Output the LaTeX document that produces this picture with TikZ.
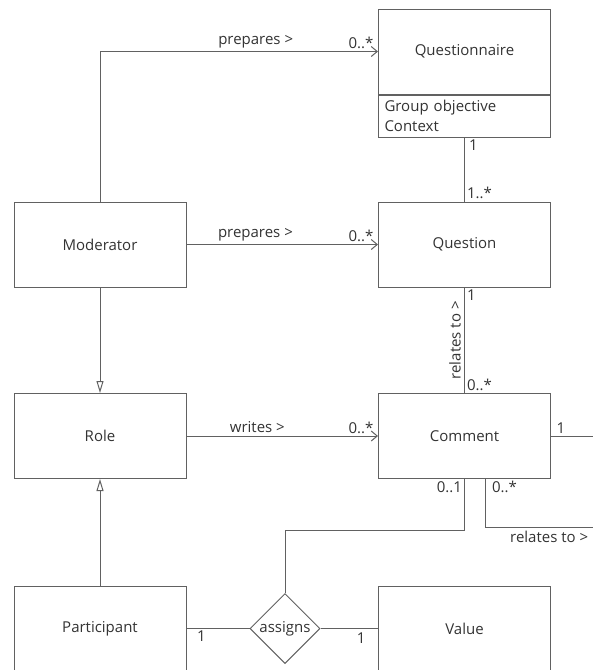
\documentclass[tikz,border=0pt]{standalone}
\usepackage{fontspec}
\setmainfont{Open Sans}
\usepackage{tikz}
\usetikzlibrary{arrows.meta, positioning, shapes.geometric}

\begin{document}
\begin{tikzpicture}[
    x=1pt, y=-1pt,
    font=\fontsize{15}{20}\selectfont,
    every node/.append style={text=black!80},
    class/.style={rectangle, draw=black!62, line width=1pt, minimum width=172pt, minimum height=85pt, inner sep=0pt},
    attrs/.style={rectangle, draw=black!62, line width=1pt, minimum width=172pt, minimum height=42pt, text width=160pt, align=left, inner sep=0pt},
    rel/.style={diamond, draw=black!62, line width=1pt, minimum width=70pt, minimum height=70pt, inner sep=0pt},
    link/.style={draw=black!62, line width=1pt},
    assoc/.style={link, -{Straight Barb[length=6pt, width=10pt]}},
    gen/.style={link, -{Triangle[open, length=12pt, width=7pt]}},
    mult/.style={inner sep=2pt}
]
\clip (0,0) rectangle (593,670);

\node [class] (questionnaire) at (464.5,51.5) {Questionnaire};
\node [attrs, below=0pt of questionnaire] (qattr) {Group objective\\Context};
\node [class] (moderator) at (100,244.5) {Moderator};
\node [class] (question) at (464.5,244.5) {Question};
\node [class] (role) at (100,436) {Role};
\node [class] (comment) at (464.5,436) {Comment};
\node [class] (participant) at (100,628.5) {Participant};
\node [class] (value) at (464.5,628.5) {Value};
\node [rel] (assigns) at (285,628.5) {assigns};
\coordinate (cmtout) at (593,436);
\coordinate (relout) at (593,527);

\draw[assoc] (moderator.north) |- (questionnaire.west)
    node [pos=0.78, above] {prepares >}
    node [pos=1, mult, above left, xshift=-2pt] {0..*};
\draw[assoc] (moderator) -- (question)
    node [pos=0.36, above] {prepares >}
    node [pos=1, mult, above left, xshift=-2pt] {0..*};
\draw[link] (qattr) -- (question)
    node [pos=0, mult, below right, xshift=2pt] {1}
    node [pos=1, mult, above right] {1..*};
\draw[link] (question) -- (comment)
    node [pos=0, mult, below right] {1}
    node [pos=1, mult, above right] {0..*}
    node [midway, rotate=90, above] {relates to >};
\draw[gen] (moderator) -- (role);
\draw[assoc] (role) -- (comment)
    node [pos=0.37, above] {writes >}
    node [pos=1, mult, above left, xshift=-2pt] {0..*};
\draw[link] (comment) -- (cmtout)
    node [pos=0, mult, above right, xshift=3pt] {1};
\draw[link] (comment.south) node [mult, below left] {0..1}
    -- ++(0,51) -| (assigns.north);
\draw[link] ([xshift=21pt]comment.south) node [mult, below right, xshift=4pt] {0..*}
    -- ++(0,48) -- (relout)
    node [pos=1, below left, xshift=-1pt] {relates to >};
\draw[gen] (participant) -- (role);
\draw[link] (participant) -- (assigns)
    node [pos=0, mult, below right, xshift=8pt] {1};
\draw[link] (assigns) -- (value)
    node [pos=1, mult, below left, xshift=-10pt, yshift=-2pt] {1};
\end{tikzpicture}
\end{document}
